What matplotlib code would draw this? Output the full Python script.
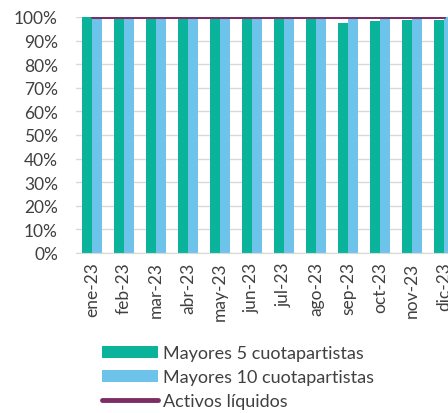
import numpy as np
import matplotlib.pyplot as plt
from matplotlib.ticker import PercentFormatter

plt.rcParams['font.family'] = ['Lato', 'DejaVu Sans']

meses = ["ene-23", "feb-23", "mar-23", "abr-23", "may-23", "jun-23",
         "jul-23", "ago-23", "sep-23", "oct-23", "nov-23", "dic-23"]
mayores_5 = [100.0, 99.3, 99.4, 99.4, 99.4, 99.5, 99.4, 99.3, 97.6, 98.3, 98.6, 98.6]
mayores_10 = [99.8, 99.7, 99.7, 99.7, 99.7, 99.8, 99.7, 99.7, 99.6, 99.6, 99.7, 100.0]
activos_liquidos = [100.0] * 12

verde = "#0BB39A"
azul = "#6EC3EB"
morado = "#7B2D65"
texto = "#404040"

fig = plt.figure(figsize=(4.48, 4.14), dpi=100)
ax = fig.add_axes([76 / 448, 1 - 254 / 414, 384 / 448, 236 / 414])

x = np.arange(len(meses))
w = 0.3
b5 = ax.bar(x - w / 2, mayores_5, width=w, color=verde, label="Mayores 5 cuotapartistas", zorder=2)
b10 = ax.bar(x + w / 2, mayores_10, width=w, color=azul, label="Mayores 10 cuotapartistas", zorder=2)
ln, = ax.plot(x, activos_liquidos, color=morado, linewidth=2.2, label="Activos líquidos", zorder=3,
              solid_capstyle="round")

ax.set_xlim(-0.5, len(meses) - 0.5)
ax.set_ylim(0, 100)
ax.set_yticks(np.arange(0, 101, 10))
ax.yaxis.set_major_formatter(PercentFormatter(decimals=0))
ax.set_xticks(x)
ax.set_xticklabels(meses, rotation=90)

ax.grid(axis="y", color="#D9D9D9", linewidth=1, zorder=0)
for s in ["top", "right", "left"]:
    ax.spines[s].set_visible(False)
ax.spines["bottom"].set_color("#D9D9D9")
ax.tick_params(axis="both", length=0, colors=texto, labelsize=12.5)
ax.tick_params(axis="y", pad=13)
ax.tick_params(axis="x", pad=6)

leg = fig.legend([b5, b10, ln], [b5.get_label(), b10.get_label(), ln.get_label()],
                 loc="upper left", bbox_to_anchor=(102 / 448, 1 - 346 / 414),
                 frameon=False, fontsize=13, handlelength=3.1, handleheight=0.64,
                 handletextpad=0.3, labelspacing=0.45, borderpad=0, borderaxespad=0)
for t in leg.get_texts():
    t.set_color(texto)
leg.get_lines()[0].set_linewidth(3.5)

fig.savefig("out.png", dpi=100)
